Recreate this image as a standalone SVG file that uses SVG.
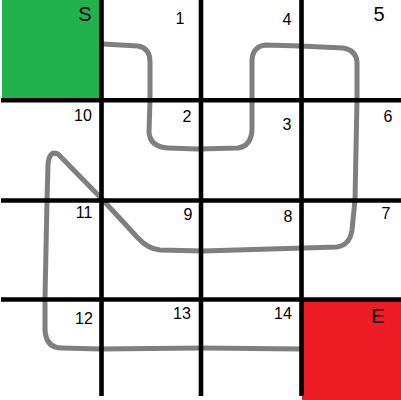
<svg xmlns="http://www.w3.org/2000/svg" width="401" height="400" viewBox="0 0 401 400">
<style>
.grid{stroke:#000;stroke-width:4.6;fill:none}
.route{stroke:#7f7f7f;stroke-width:5;fill:none;stroke-linecap:round;stroke-linejoin:round}
.lbl{font-family:"Liberation Sans",Arial,sans-serif;font-size:16px;fill:#000;text-anchor:middle}
.big{font-size:20px}
</style>
<rect width="401" height="400" fill="#fff"/>
<g id="start"><rect x="2" y="0" width="98" height="99" fill="#22b14c"/></g>
<g id="end"><rect x="302" y="300" width="99" height="100" fill="#ed1c24"/></g>
<g id="connectors">
<path class="route" d="M103,44 L138,46 Q150,48 150,62 L150,100 L149,132 Q150,147 168,148 L197,149 L238,148 Q251,146 252,130 L252,60 Q253,46 266,45 L300,46 L343,48 Q356,50 357,62 L357,100 L355,200 L352,230 Q350,245 337,247 L304,248 L203,251 L160,250 Q148,249 138,238 L101,198 L58,154 Q49,150 48,165 L47,200 L45,298 L45,330 Q46,348 62,348 L100,349 L203,348 L300,349"/>
</g>
<g id="grid">
<line class="grid" x1="101.5" y1="0" x2="101.5" y2="396"/>
<line class="grid" x1="201" y1="0" x2="201" y2="396"/>
<line class="grid" x1="301.5" y1="0" x2="301.5" y2="396"/>
<line class="grid" x1="1" y1="100.3" x2="401" y2="100.3"/>
<line class="grid" x1="1" y1="200.5" x2="401" y2="200.5"/>
<line class="grid" x1="1" y1="299.5" x2="401" y2="299.5"/>
</g>
<g id="labels">
<text class="lbl big" x="85" y="21">S</text>
<text class="lbl" x="180" y="24">1</text>
<text class="lbl" x="287" y="25">4</text>
<text class="lbl big" x="379" y="21">5</text>
<text class="lbl" x="83" y="121">10</text>
<text class="lbl" x="187" y="122">2</text>
<text class="lbl" x="287" y="130">3</text>
<text class="lbl" x="388" y="122">6</text>
<text class="lbl" x="84" y="218">11</text>
<text class="lbl" x="188" y="220">9</text>
<text class="lbl" x="288" y="222">8</text>
<text class="lbl" x="386" y="219">7</text>
<text class="lbl" x="84" y="324">12</text>
<text class="lbl" x="182" y="319">13</text>
<text class="lbl" x="283" y="319">14</text>
<text class="lbl big" x="378" y="323">E</text>
</g>
</svg>
